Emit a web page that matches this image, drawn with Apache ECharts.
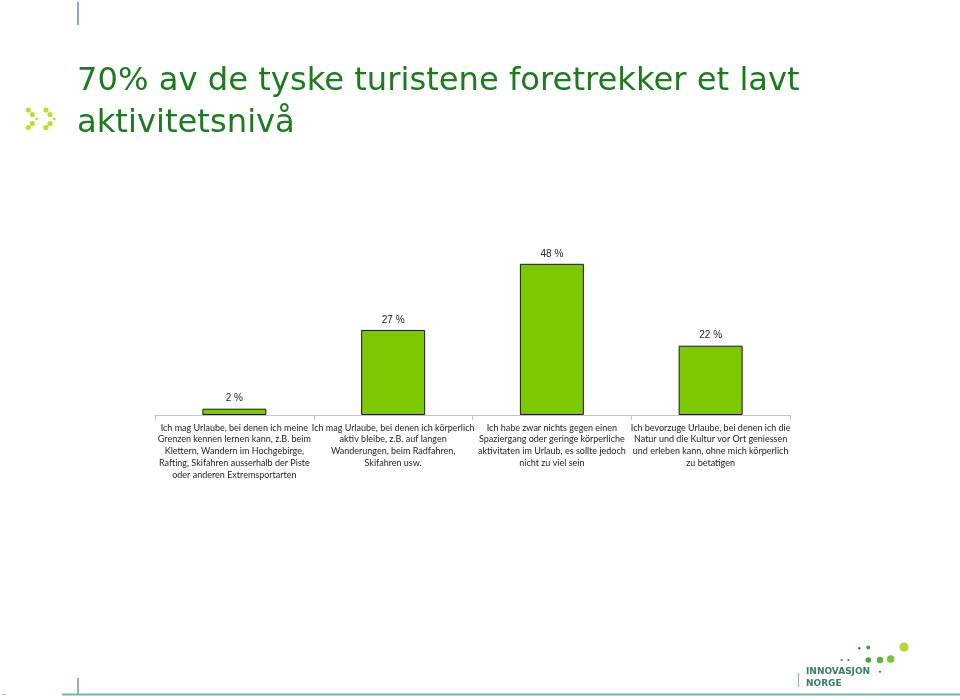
<!DOCTYPE html>
<html>
<head>
<meta charset="utf-8">
<script src="https://cdn.jsdelivr.net/npm/echarts@6/dist/echarts.min.js"></script>
<style>html,body{margin:0;padding:0;background:#fff}#c{width:960px;height:700px}</style>
</head>
<body>
<div id="c"></div>
<script>
var titleText = '70% av de tyske turistene foretrekker et lavt\naktivitetsnivå';
var categories = [
  'Ich mag Urlaube, bei denen ich meine\nGrenzen kennen lernen kann, z.B. beim\nKlettern, Wandern im Hochgebirge,\nRafting, Skifahren ausserhalb der Piste\noder anderen Extremsportarten',
  'Ich mag Urlaube, bei denen ich körperlich\naktiv bleibe, z.B. auf langen\nWanderungen, beim Radfahren,\nSkifahren usw.',
  'Ich habe zwar nichts gegen einen\nSpaziergang oder geringe körperliche\naktivitaten im Urlaub, es sollte jedoch\nnicht zu viel sein',
  'Ich bevorzuge Urlaube, bei denen ich die\nNatur und die Kultur vor Ort geniessen\nund erleben kann, ohne mich körperlich\nzu betatigen'
];
var values = [2, 27, 48, 22];
var logoLine1 = 'INNOVASJON';
var logoLine2 = 'NORGE';

var chart = echarts.init(document.getElementById('c'), null, {renderer: 'canvas'});

var dotColor = '#c2dc2a';
var chevronDots = [];
[[28.3,110,2.6],[32.3,114.5,2.6],[36.7,119,1.4],[32.3,123.5,2.6],[28.3,127.5,2.6],
 [46,110,2.6],[50,114.5,2.6],[54.3,119,1.4],[50,123.5,2.6],[46,127.5,2.6]].forEach(function(d){
  chevronDots.push({type:'circle', shape:{cx:d[0], cy:d[1], r:d[2]}, style:{fill:dotColor}, silent:true});
});
var logoDots = [
  [859.3,648.3,1.2,'#2f6b58'],[868.3,647.5,2.0,'#3f9a4a'],
  [841.7,660,1.0,'#2f6b58'],[848.3,660,1.0,'#2f6b58'],
  [868.3,660,2.8,'#44a440'],[880,660,3.2,'#5bb53c'],[890.7,659,3.8,'#7dc23a'],
  [904,647,4.6,'#b9d634'],[880,671.7,1.0,'#2f6b58']
].map(function(d){
  return {type:'circle', shape:{cx:d[0], cy:d[1], r:d[2]}, style:{fill:d[3]}, silent:true};
});

var option = {
  animation: false,
  backgroundColor: '#ffffff',
  title: {
    text: titleText,
    left: 77,
    top: 61,
    padding: 0,
    textStyle: {
      fontFamily: 'DejaVu Sans, sans-serif',
      fontSize: 32.2,
      fontWeight: 'normal',
      lineHeight: 42,
      color: '#1d7a1f'
    }
  },
  grid: {left: 155, right: 170, top: 226, bottom: 285, containLabel: false},
  xAxis: {
    type: 'category',
    data: categories,
    axisLine: {show: true, lineStyle: {color: '#c4c4c4', width: 1}},
    axisTick: {show: true, length: 5, lineStyle: {color: '#c4c4c4'}},
    axisLabel: {
      interval: 0,
      margin: 7,
      fontFamily: 'Lato, Liberation Sans, sans-serif',
      fontSize: 9,
      lineHeight: 11.7,
      color: '#222222',
      align: 'center'
    }
  },
  yAxis: {
    type: 'value',
    min: 0,
    max: 60,
    show: false,
    splitLine: {show: false}
  },
  series: [{
    type: 'bar',
    data: values,
    barWidth: 64,
    itemStyle: {color: '#7dc800', borderColor: '#1a1a1a', borderWidth: 1},
    label: {
      show: true,
      position: 'top',
      distance: 5,
      formatter: '{c} %',
      fontFamily: 'Liberation Sans, Arial, sans-serif',
      fontSize: 10,
      color: '#222222'
    }
  }],
  graphic: [
    {type:'line', shape:{x1:78, y1:2, x2:78, y2:25}, style:{stroke:'#5f8f9f', lineWidth:1.5}, silent:true},
    {type:'line', shape:{x1:62, y1:694.5, x2:960, y2:694.5}, style:{stroke:'#7fb0ad', lineWidth:2}, silent:true},
    {type:'line', shape:{x1:2, y1:694.5, x2:6, y2:694.5}, style:{stroke:'#a8c8c6', lineWidth:1}, silent:true},
    {type:'line', shape:{x1:78, y1:678, x2:78, y2:694}, style:{stroke:'#6b9f9c', lineWidth:1.5}, silent:true},
    {type:'line', shape:{x1:798.5, y1:673, x2:798.5, y2:687}, style:{stroke:'#8fb5b3', lineWidth:1}, silent:true},
    {type:'text', left: 806, top: 667, style:{text: logoLine1, fontFamily:'DejaVu Sans, sans-serif', fontWeight:'bold', fontSize:9, fill:'#3c7a68'}, silent:true},
    {type:'text', left: 806, top: 679, style:{text: logoLine2, fontFamily:'DejaVu Sans, sans-serif', fontWeight:'bold', fontSize:9, fill:'#3c7a68'}, silent:true}
  ].concat(chevronDots).concat(logoDots)
};
chart.setOption(option);
</script>
</body>
</html>
